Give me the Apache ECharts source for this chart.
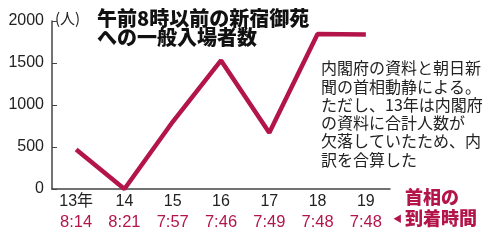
<!DOCTYPE html>
<html><head><meta charset="utf-8">
<script src="https://cdn.jsdelivr.net/npm/echarts@6/dist/echarts.min.js"></script>
<style>html,body{margin:0;padding:0;background:#fff}#c{width:492px;height:241px}</style>
</head><body><div id="c"></div>
<script>
const years = ['13年','14','15','16','17','18','19'];
const arrivalTimes = ['8:14','8:21','7:57','7:46','7:49','7:48','7:48'];
const visitors = [470, 0, 800, 1530, 670, 1845, 1840];
const yTicks = [0, 500, 1000, 1500, 2000];

const NUM = '"Liberation Sans", Arial, "Noto Sans CJK JP", sans-serif';
const JP = '"Noto Sans CJK JP", "Noto Sans", sans-serif';
const RED = '#b3154a';
const chart = echarts.init(document.getElementById('c'), null, {renderer:'canvas'});
chart.setOption({
  animation:false,
  backgroundColor:'#fff',
  grid:{left:52, right:102, top:21, bottom:52},
  xAxis:{
    type:'category', data: years.map((y,i)=>y+'\n'+arrivalTimes[i]), boundaryGap:true,
    axisLine:{lineStyle:{color:'#444', width:1.5}},
    axisTick:{inside:true, alignWithLabel:true, length:4, lineStyle:{color:'#444'}},
    axisLabel:{interval:0, margin:3, fontFamily:NUM, fontSize:16, lineHeight:20, color:'#222',
      formatter:(v)=>{const p=v.split('\n');return '{y|'+p[0]+'}\n{t|'+p[1]+'}';},
      rich:{y:{fontFamily:NUM,fontSize:16,color:'#222',lineHeight:20},t:{fontFamily:NUM,fontSize:16.5,color:RED,lineHeight:20}}}
  },
  yAxis:{
    type:'value', min:0, max:2000, interval:500,
    axisLine:{show:true, lineStyle:{color:'#444', width:1.5}},
    axisTick:{show:true, inside:true, length:5, lineStyle:{color:'#444'}},
    splitLine:{show:false},
    axisLabel:{margin:8, fontFamily:NUM, fontSize:16, color:'#222', formatter:(v)=>yTicks.includes(v)?String(v):''}
  },
  series:[{type:'line', data:visitors, symbol:'none', lineStyle:{color:RED, width:4.5}, itemStyle:{color:RED}}],
  graphic:[
    {type:'text', left:55, top:11, style:{text:'(人)', fontFamily:JP, fontSize:15, fill:'#222'}},
    {type:'text', left:97, top:8, style:{text:'午前8時以前の新宿御苑\nへの一般入場者数', fontFamily:JP, fontWeight:900, fontSize:20, lineHeight:19, fill:'#111'}},
    {type:'text', left:321, top:59, style:{text:'内閣府の資料と朝日新\n聞の首相動静による。\nただし、13年は内閣府\nの資料に合計人数が\n欠落していたため、内\n訳を合算した', fontFamily:JP, fontSize:16, lineHeight:18.3, fill:'#222'}},
    {type:'text', left:393, top:214, style:{text:'◀', fontFamily:JP, fontSize:9, fill:RED}},
    {type:'text', left:405, top:187, style:{text:'首相の\n到着時間', fontFamily:JP, fontWeight:900, fontSize:18, lineHeight:21, fill:RED}}
  ]
});
</script></body></html>
